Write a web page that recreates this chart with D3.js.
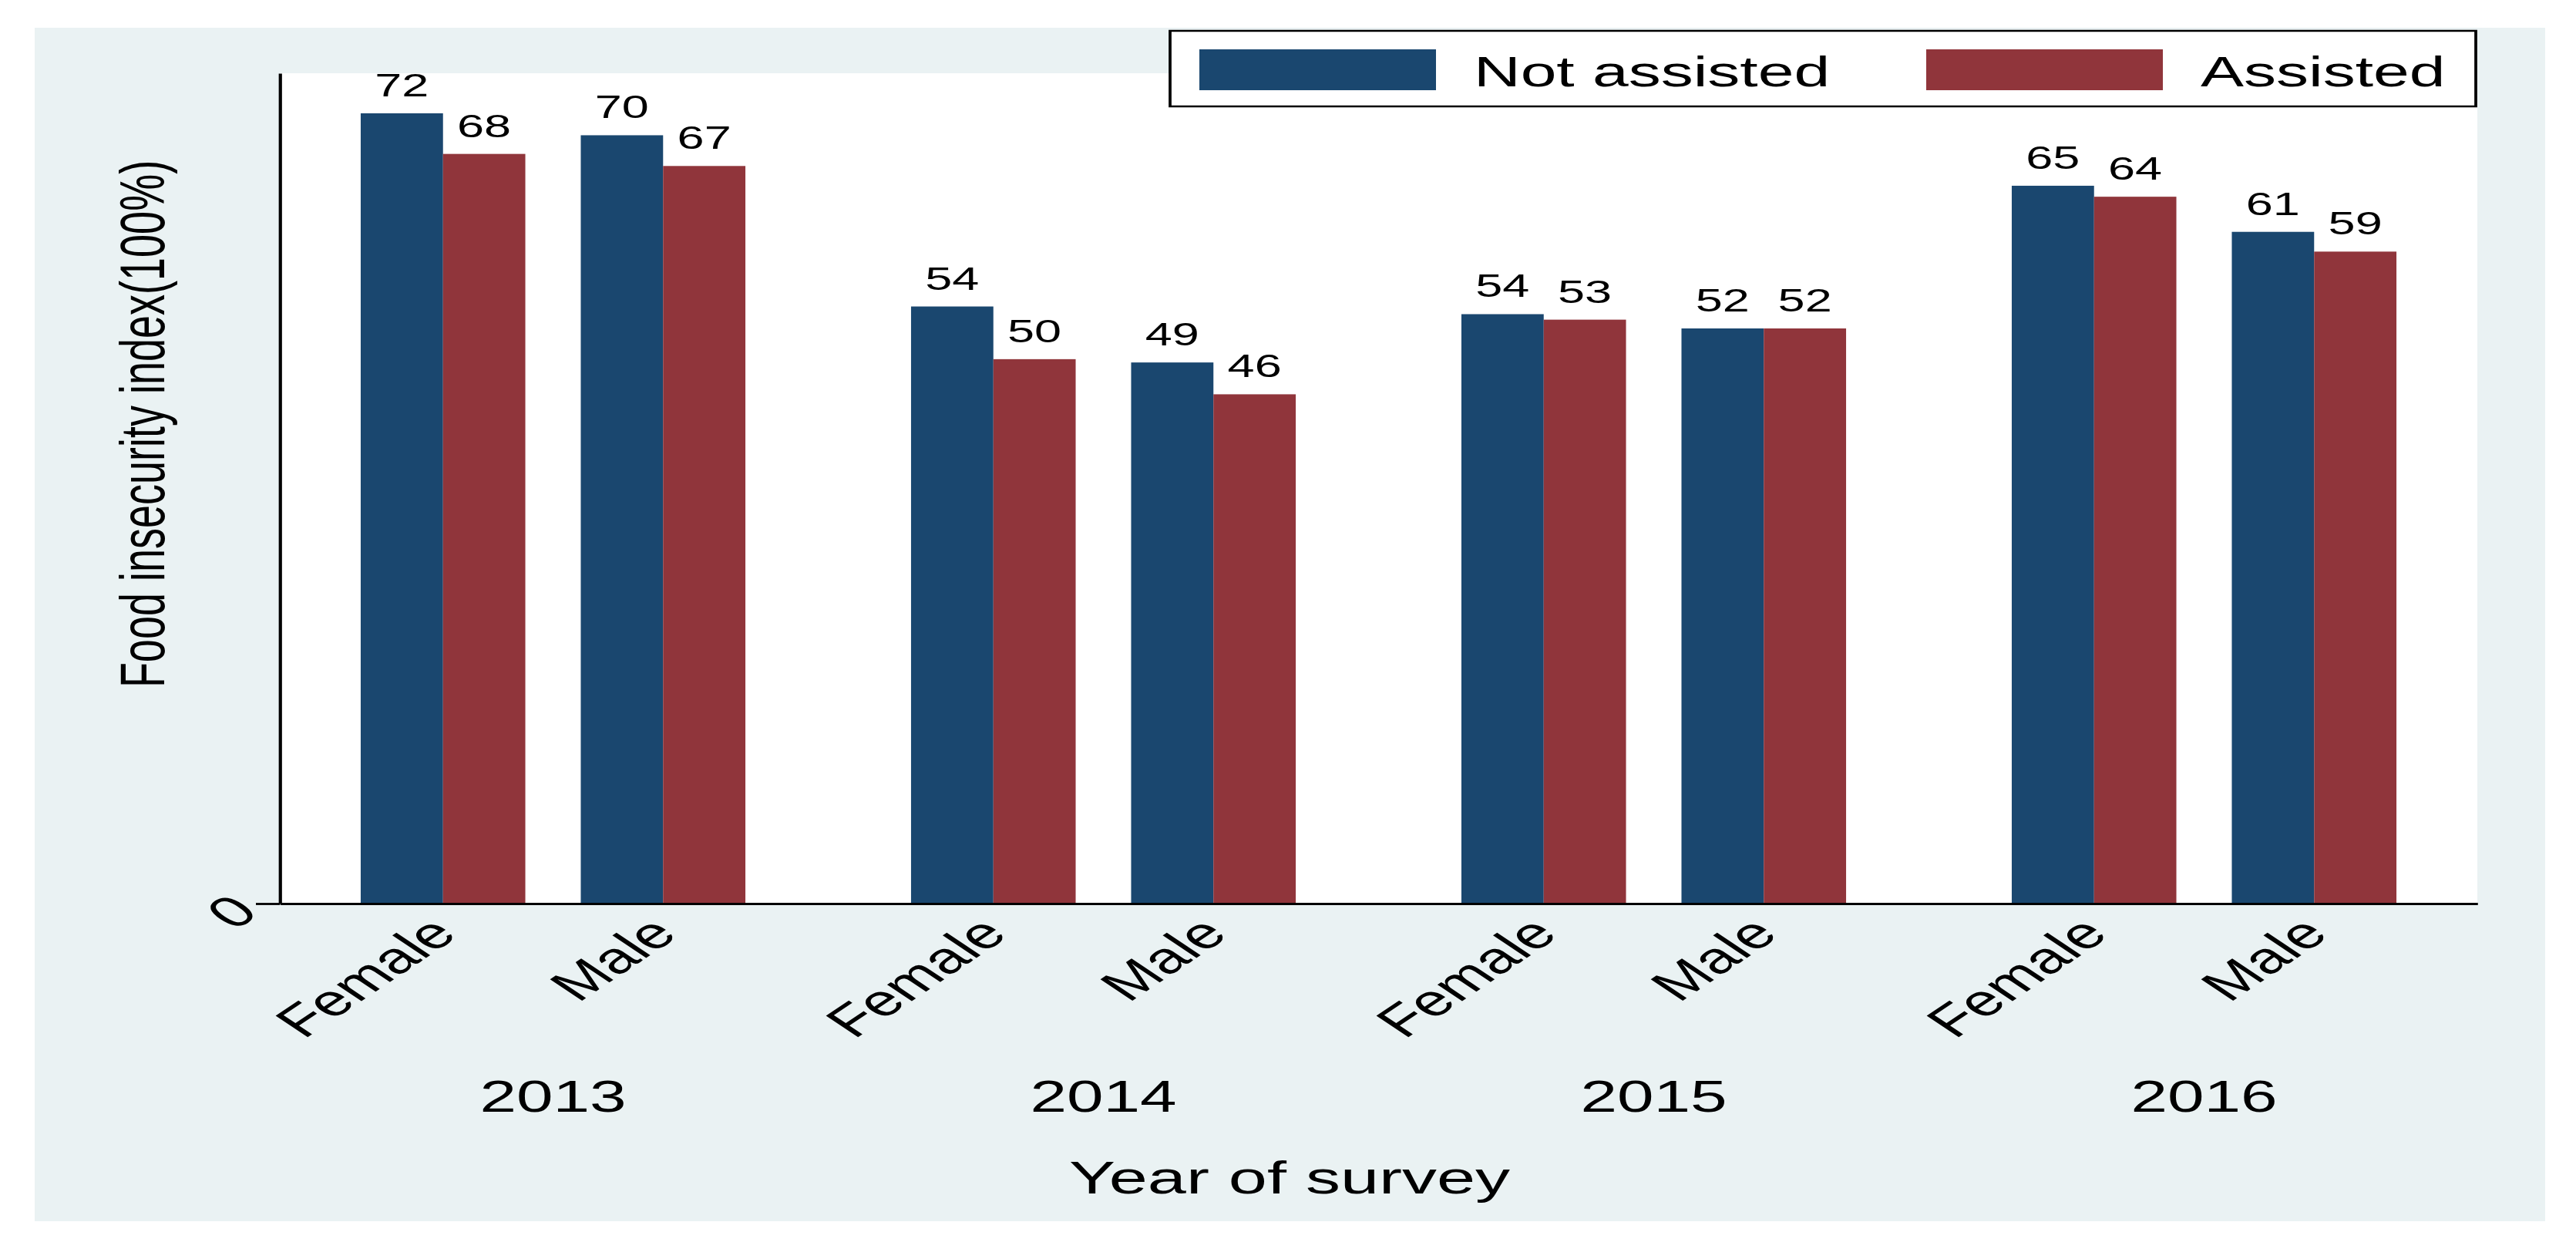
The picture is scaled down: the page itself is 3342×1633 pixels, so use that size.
<!DOCTYPE html>
<html>
<head>
<meta charset="utf-8">
<script src="https://cdn.jsdelivr.net/npm/d3@7"></script>
<style>
body { margin: 0; background: #ffffff; }
svg { display: block; }
text { font-family: "Liberation Sans", Arial, sans-serif; fill: #000; }
</style>
</head>
<body>
<div id="chart"></div>
<script>
// data (bar heights; labels are rounded)
var years = ["2013", "2014", "2015", "2016"];
var sexes = ["Female", "Male"];
var seriesNames = ["Not assisted", "Assisted"];
// order: 2013 F, 2013 M, 2014 F, 2014 M, ...
var notAssisted = [72.0, 70.0, 54.4, 49.3, 53.7, 52.4, 65.4, 61.2];
var assisted    = [68.3, 67.2, 49.6, 46.4, 53.2, 52.4, 64.4, 59.4];
var seriesColors = ["#1a476f", "#90353b"];
var yTicks = [0];

var W = 3342, H = 1633;
// the reference picture is stretched sideways, so draw narrow and stretch back
var SX = 1.5;
function px(v) { return v / SX; }

var svg = d3.select("#chart").append("svg")
	.attr("width", W).attr("height", H)
	.attr("viewBox", "0 0 " + px(W) + " " + H)
	.attr("preserveAspectRatio", "none");

var plotL = px(363), plotR = px(3214), plotT = 95, plotB = 1172;

// graph region and plot region
svg.append("rect").attr("x", px(45)).attr("y", 36).attr("width", px(3302 - 45)).attr("height", 1584 - 36).style("fill", "#eaf2f3");
svg.append("rect").attr("x", plotL).attr("y", plotT).attr("width", plotR - plotL).attr("height", plotB - plotT).style("fill", "#ffffff");

var x0 = d3.scaleBand().domain(years).range([plotL, plotR]).paddingInner(0.301).paddingOuter(0.147);
var x1 = d3.scaleBand().domain(sexes).range([0, x0.bandwidth()]).paddingInner(0.252);
var x2 = d3.scaleBand().domain(seriesNames).range([0, x1.bandwidth()]);
var y = d3.scaleLinear().domain([0, 75.65]).range([plotB, plotT]);

var rows = [];
years.forEach(function(yr, i) {
	sexes.forEach(function(s, j) {
		rows.push({ year: yr, sex: s, values: [notAssisted[i * 2 + j], assisted[i * 2 + j]] });
	});
});

var groups = svg.selectAll("g.pair").data(rows).enter().append("g")
	.attr("class", "pair")
	.attr("transform", function(d) { return "translate(" + (x0(d.year) + x1(d.sex)) + ",0)"; });

var cells = groups.selectAll("g.cell").data(function(d) {
	return d.values.map(function(v, k) { return { name: seriesNames[k], value: v, color: seriesColors[k] }; });
}).enter().append("g").attr("class", "cell");

cells.append("rect")
	.attr("x", function(d) { return x2(d.name); })
	.attr("y", function(d) { return y(d.value); })
	.attr("width", x2.bandwidth())
	.attr("height", function(d) { return plotB - y(d.value); })
	.style("fill", function(d) { return d.color; });

var fmt = d3.format(".0f");
cells.append("text")
	.attr("x", function(d) { return x2(d.name) + x2.bandwidth() / 2; })
	.attr("y", function(d) { return y(d.value) - 22; })
	.attr("text-anchor", "middle")
	.style("font-size", "42px")
	.text(function(d) { return fmt(d.value); });

// axes
var yAxis = svg.append("g").attr("transform", "translate(" + plotL + ",0)")
	.call(d3.axisLeft(y).tickValues(yTicks).tickSize(px(31)).tickSizeOuter(0).tickFormat(d3.format("d")));
yAxis.select(".domain").style("stroke", "#000").style("stroke-width", 2.8);
yAxis.selectAll(".tick line").style("stroke", "#000").style("stroke-width", 2.8);
yAxis.selectAll(".tick text")
	.attr("x", null).attr("dy", null)
	.attr("transform", "translate(" + (px(300) - plotL) + ",10) rotate(-45)")
	.attr("text-anchor", "middle")
	.attr("dominant-baseline", "central")
	.style("font-family", "'Liberation Sans', Arial, sans-serif")
	.style("font-size", "57px")
	.style("fill", "#000");

var xAxis = svg.append("g").attr("transform", "translate(0," + plotB + ")")
	.call(d3.axisBottom(x0).tickValues([]).tickSizeOuter(0));
xAxis.select(".domain").style("stroke", "#000").style("stroke-width", 2.8);

// sex labels, angled
groups.append("text")
	.attr("transform", function(d) { return "translate(" + (x1.bandwidth() / 2 + 14) + "," + (plotB + 42) + ") rotate(-45)"; })
	.attr("text-anchor", "end")
	.style("font-size", "57px")
	.text(function(d) { return d.sex; });

// year labels
svg.selectAll("text.year").data(years).enter().append("text")
	.attr("class", "year")
	.attr("x", function(d) { return x0(d) + x0.bandwidth() / 2; })
	.attr("y", 1442)
	.attr("text-anchor", "middle")
	.style("font-size", "57px")
	.text(function(d) { return d; });

// titles
svg.append("text").attr("x", px(1673)).attr("y", 1548).attr("text-anchor", "middle")
	.style("font-size", "60px").text("Year of survey");
svg.append("text").attr("transform", "translate(" + px(213) + ",550) rotate(-90)").attr("text-anchor", "middle")
	.style("font-size", "54px").text("Food insecurity index(100%)");

// legend
var legend = svg.append("g");
legend.append("rect").attr("x", px(1518)).attr("y", 40).attr("width", px(3212 - 1518)).attr("height", 98)
	.style("fill", "#ffffff").style("stroke", "#000").style("stroke-width", 2.5);
var items = legend.selectAll("g.item").data(seriesNames).enter().append("g")
	.attr("class", "item")
	.attr("transform", function(d, i) { return "translate(" + px(1556 + i * 943) + ",0)"; });
items.append("rect").attr("x", 0).attr("y", 64).attr("width", px(307)).attr("height", 53)
	.style("fill", function(d, i) { return seriesColors[i]; });
items.append("text").attr("x", px(356)).attr("y", 112).style("font-size", "56px").text(function(d) { return d; });
</script>
</body>
</html>
